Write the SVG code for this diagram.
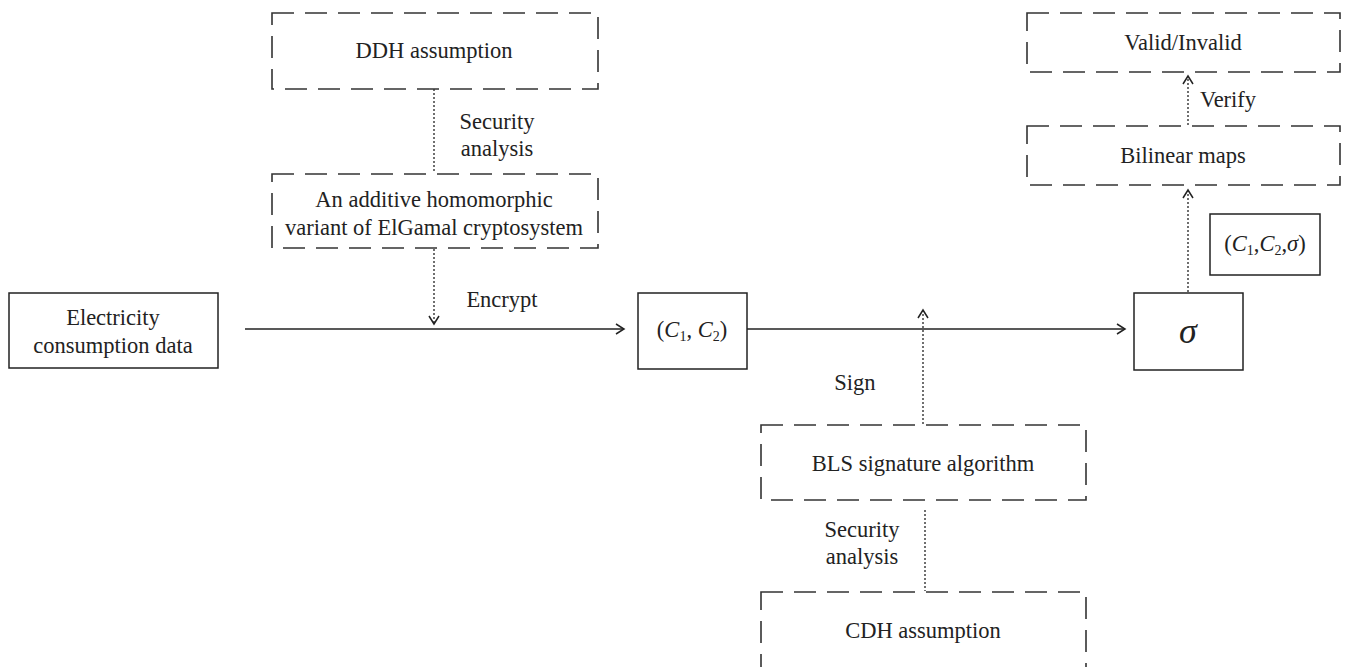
<svg xmlns="http://www.w3.org/2000/svg" width="1362" height="667" viewBox="0 0 1362 667">
<style>
text{font-family:"Liberation Serif","Times New Roman",serif;font-size:22.5px;fill:#222;text-anchor:middle}
.solid{fill:#fff;stroke:#222;stroke-width:1.5}
.dash{fill:none;stroke:#333;stroke-width:1.6;stroke-dasharray:22 11}
.line{stroke:#222;stroke-width:1.5;fill:none}
.dot{stroke:#333;stroke-width:1.4;stroke-dasharray:2 2;fill:none}
.it{font-style:italic}
.sub{font-size:14px}
</style>
<defs>
<marker id="arr" markerWidth="12" markerHeight="12" refX="10" refY="6" orient="auto" markerUnits="userSpaceOnUse">
<path d="M2,1 L10,6 L2,11" fill="none" stroke="#222" stroke-width="1.5"/>
</marker>
</defs>
<rect width="1362" height="667" fill="#fff"/>
<g id="connectors">
<line class="dot" x1="434" y1="89" x2="434" y2="173"/>
<line class="dot" x1="434" y1="249" x2="434" y2="324" marker-end="url(#arr)"/>
<line class="line" x1="245" y1="329" x2="624" y2="329" marker-end="url(#arr)"/>
<line class="line" x1="747" y1="329" x2="1125" y2="329" marker-end="url(#arr)"/>
<line class="dot" x1="923" y1="424" x2="923" y2="310" marker-end="url(#arr)"/>
<line class="dot" x1="925" y1="510" x2="925" y2="591"/>
<line class="dot" x1="1188" y1="292" x2="1188" y2="190" marker-end="url(#arr)"/>
<line class="dot" x1="1188" y1="125" x2="1188" y2="76" marker-end="url(#arr)"/>
<text x="497" y="129">Security</text>
<text x="497" y="156">analysis</text>
<text x="502" y="307">Encrypt</text>
<text x="855" y="390">Sign</text>
<text x="862" y="537">Security</text>
<text x="862" y="564">analysis</text>
<text x="1228" y="107">Verify</text>
</g>
<g id="ddh">
<rect class="dash" x="272" y="13" width="326" height="76"/>
<text x="434" y="58">DDH assumption</text>
</g>
<g id="elgamal">
<rect class="dash" x="272" y="174" width="326" height="74"/>
<text x="434" y="207">An additive homomorphic</text>
<text x="434" y="235">variant of ElGamal cryptosystem</text>
</g>
<g id="electricity">
<rect class="solid" x="9" y="293" width="209" height="75"/>
<text x="113" y="325">Electricity</text>
<text x="113" y="353">consumption data</text>
</g>
<g id="c1c2">
<rect class="solid" x="638" y="293" width="109" height="76"/>
<text x="692" y="337">(<tspan class="it">C</tspan><tspan class="sub" dy="4">1</tspan><tspan dy="-4">, </tspan><tspan class="it">C</tspan><tspan class="sub" dy="4">2</tspan><tspan dy="-4">)</tspan></text>
</g>
<g id="sigma">
<rect class="solid" x="1134" y="293" width="109" height="77"/>
<text x="1188" y="343" class="it" style="font-size:36px">σ</text>
</g>
<g id="c1c2sigma">
<rect class="solid" x="1210" y="214" width="110" height="61"/>
<text x="1265" y="251">(<tspan class="it">C</tspan><tspan class="sub" dy="4">1</tspan><tspan dy="-4">,</tspan><tspan class="it">C</tspan><tspan class="sub" dy="4">2</tspan><tspan dy="-4">,</tspan><tspan class="it">σ</tspan>)</text>
</g>
<g id="valid">
<rect class="dash" x="1027" y="13" width="313" height="59"/>
<text x="1183" y="50">Valid/Invalid</text>
</g>
<g id="bilinear">
<rect class="dash" x="1027" y="126" width="313" height="59"/>
<text x="1183" y="163">Bilinear maps</text>
</g>
<g id="bls">
<rect class="dash" x="761" y="425" width="325" height="75"/>
<text x="923" y="471">BLS signature algorithm</text>
</g>
<g id="cdh">
<rect class="dash" x="761" y="592" width="325" height="80"/>
<text x="923" y="638">CDH assumption</text>
</g>
</svg>
